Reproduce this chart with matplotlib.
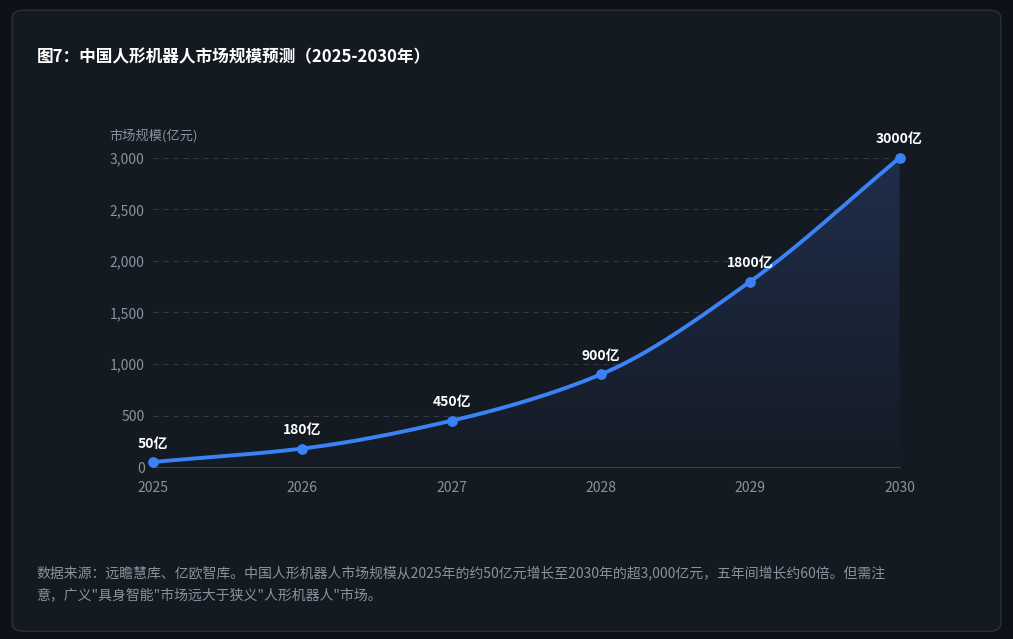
import matplotlib.pyplot as plt
import numpy as np
from matplotlib.patches import FancyBboxPatch, Polygon

plt.rcParams['font.family'] = ['Noto Sans CJK SC', 'DejaVu Sans']

years = [2025, 2026, 2027, 2028, 2029, 2030]
values = [50, 180, 450, 900, 1800, 3000]
labels = ['50亿', '180亿', '450亿', '900亿', '1800亿', '3000亿']
yticks = [0, 500, 1000, 1500, 2000, 2500, 3000]

def smooth(x, y, n=40):  # monotone cubic (Fritsch-Carlson) for the drawn line
    x = np.asarray(x, float); y = np.asarray(y, float)
    h = np.diff(x); d = np.diff(y) / h
    m = np.zeros_like(y)
    m[0], m[-1] = d[0], d[-1]
    for i in range(1, len(y) - 1):
        m[i] = 0 if d[i-1] * d[i] <= 0 else 2 / (1/d[i-1] + 1/d[i])
    xs, ys = [], []
    for i in range(len(h)):
        t = np.linspace(0, 1, n)
        h00 = 2*t**3 - 3*t**2 + 1; h10 = t**3 - 2*t**2 + t
        h01 = -2*t**3 + 3*t**2; h11 = t**3 - t**2
        xs.append(x[i] + t*h[i])
        ys.append(h00*y[i] + h10*h[i]*m[i] + h01*y[i+1] + h11*h[i]*m[i+1])
    return np.concatenate(xs), np.concatenate(ys)

fig = plt.figure(figsize=(10.13, 6.39), dpi=100)
fig.patch.set_facecolor('#0e1218')
card = FancyBboxPatch((0.012, 0.012), 0.976, 0.972, boxstyle='round,pad=0,rounding_size=0.012',
                      transform=fig.transFigure, facecolor='#141a22', edgecolor='#2a313b', lw=1,
                      zorder=-10)
fig.add_artist(card)

ax = fig.add_axes([0.151, 0.269, 0.737, 0.484])
ax.set_zorder(5)
ax.set_facecolor('none')
xs, ys = smooth(years, values)

# gradient fill
grad = np.linspace(0, 1, 256).reshape(-1, 1)
im = ax.imshow(grad, extent=[2025, 2030, 0, 3000], origin='lower', aspect='auto',
               cmap=plt.matplotlib.colors.LinearSegmentedColormap.from_list('g', ['#151b25', '#1f2e4b']),
               zorder=1)
poly = Polygon(np.column_stack([np.r_[xs, 2030, 2025], np.r_[ys, 0, 0]]), closed=True,
               transform=ax.transData, facecolor='none', edgecolor='none')
ax.add_patch(poly)
im.set_clip_path(poly)

ax.plot(xs, ys, color='#3b82f6', lw=2.8, zorder=3, clip_on=False)
ax.scatter(years, values, s=45, color='#3b82f6', zorder=4, clip_on=False)
for x, v, l in zip(years, values, labels):
    ax.text(x, v + 110, l, color='white', fontsize=10, fontweight='bold', ha='center', va='bottom')

ax.set_xlim(2025, 2030)
ax.set_ylim(0, 3000)
ax.set_xticks(years)
ax.set_yticks(yticks)
ax.set_yticklabels([f'{v:,}' for v in yticks])
ax.tick_params(colors='#8a929c', labelsize=10, length=0, pad=6)
ax.tick_params(axis='x', pad=10)
for y in yticks[1:]:
    ax.axhline(y, color='#323a45', lw=0.8, ls=(0, (5, 4)), zorder=0)
for s in ['top', 'right', 'left']:
    ax.spines[s].set_visible(False)
ax.spines['bottom'].set_color('#3a424d')
fig.text(0.108, 0.782, '市场规模(亿元)', color='#8a929c', fontsize=9.5)

fig.text(0.036, 0.903, '图7：中国人形机器人市场规模预测（2025-2030年）', color='white',
         fontsize=12, fontweight='bold')
fig.text(0.036, 0.062, '数据来源：远瞻慧库、亿欧智库。中国人形机器人市场规模从2025年的约50亿元增长至2030年的超3,000亿元，五年间增长约60倍。但需注\n意，广义"具身智能"市场远大于狭义"人形机器人"市场。',
         color='#8a929c', fontsize=10, linespacing=1.7)

fig.savefig('out.png', dpi=100, facecolor=fig.get_facecolor())
